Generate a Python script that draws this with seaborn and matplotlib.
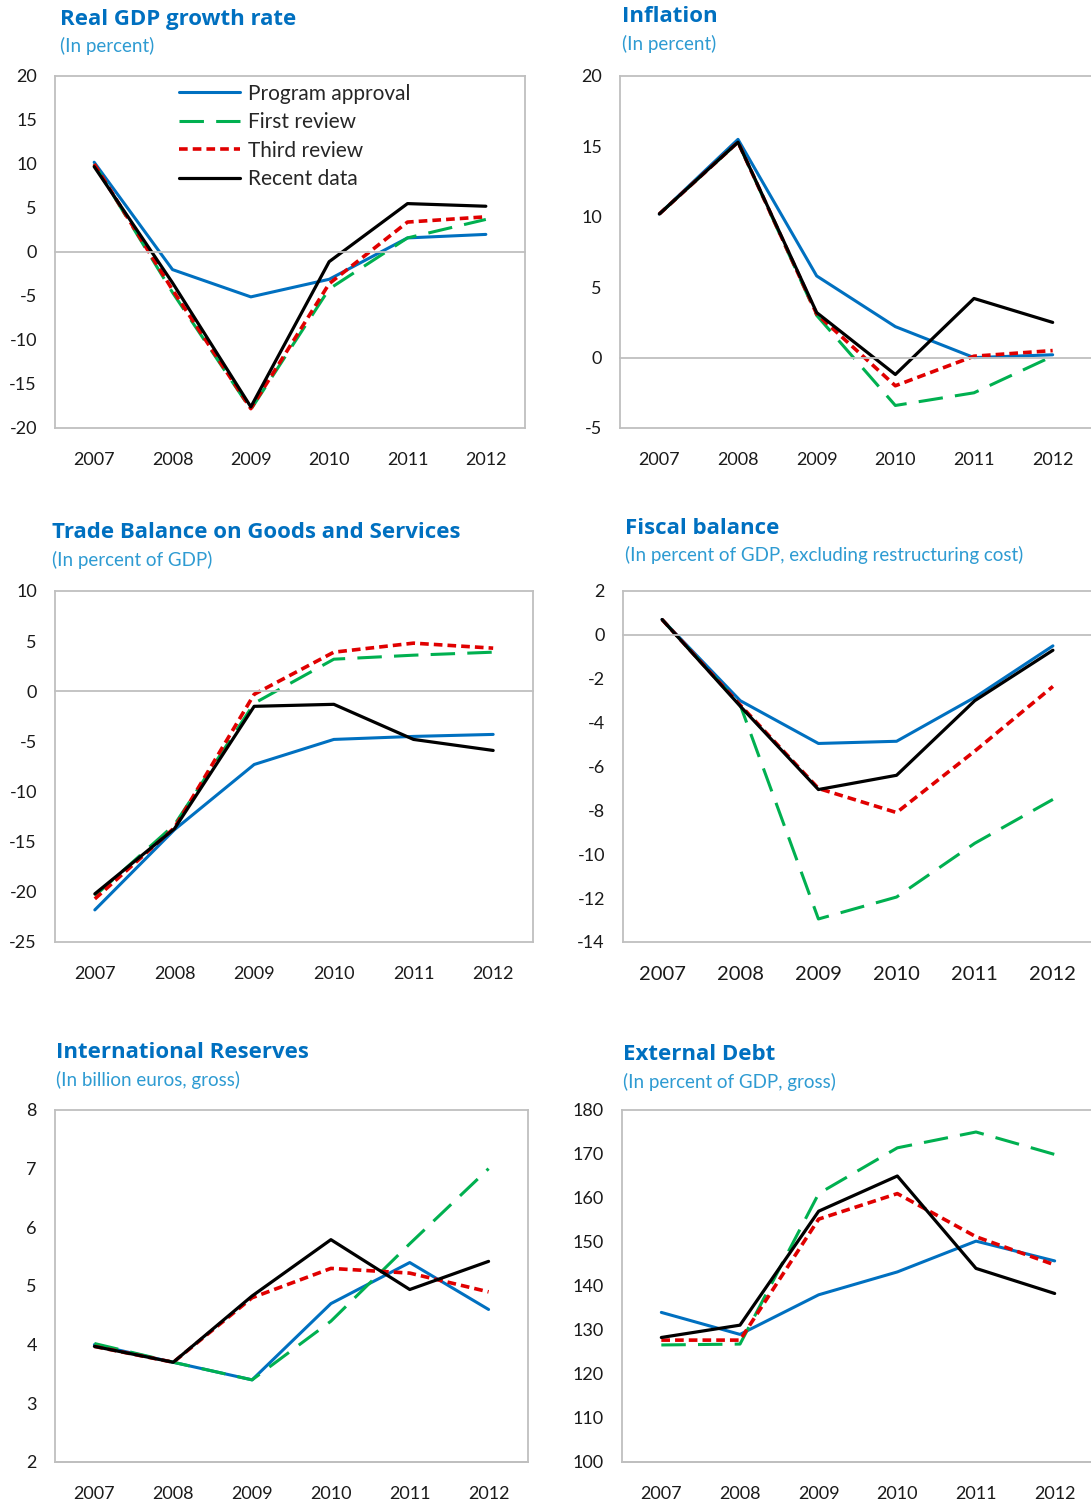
import numpy as np
import pandas as pd
import matplotlib
matplotlib.use("Agg")
import matplotlib.pyplot as plt
import seaborn as sns

years = [2007, 2008, 2009, 2010, 2011, 2012]
series_names = ["Program approval", "First review", "Third review", "Recent data"]

# Real GDP growth rate (percent)
gdp_program = [10.2, -2.0, -5.1, -3.1, 1.6, 2.0]
gdp_first = [10.0, -4.6, -17.9, -4.2, 1.6, 3.7]
gdp_third = [10.0, -4.3, -17.8, -3.6, 3.4, 4.0]
gdp_recent = [9.7, -3.5, -17.6, -1.1, 5.5, 5.2]

# Inflation (percent)
infl_program = [10.2, 15.5, 5.8, 2.2, 0.0, 0.2]
infl_first = [10.2, 15.3, 3.0, -3.4, -2.5, 0.1]
infl_third = [10.2, 15.3, 3.1, -2.0, 0.1, 0.5]
infl_recent = [10.2, 15.3, 3.2, -1.2, 4.2, 2.5]

# Trade balance on goods and services (percent of GDP)
trade_program = [-21.8, -13.8, -7.3, -4.8, -4.5, -4.3]
trade_first = [-20.4, -13.3, -1.2, 3.2, 3.6, 3.9]
trade_third = [-20.7, -13.6, -0.3, 3.9, 4.8, 4.3]
trade_recent = [-20.2, -13.7, -1.5, -1.3, -4.8, -5.9]

# Fiscal balance (percent of GDP)
fiscal_program = [0.7, -3.0, -4.95, -4.85, -2.85, -0.5]
fiscal_first = [0.7, -3.2, -12.95, -11.95, -9.5, -7.5]
fiscal_third = [0.7, -3.2, -7.0, -8.1, -5.3, -2.35]
fiscal_recent = [0.7, -3.25, -7.05, -6.4, -3.0, -0.7]

# International reserves (billion euros)
res_program = [4.0, 3.7, 3.4, 4.7, 5.4, 4.6]
res_first = [4.02, 3.7, 3.4, 4.4, 5.72, 7.0]
res_third = [3.97, 3.7, 4.8, 5.3, 5.22, 4.9]
res_recent = [3.97, 3.7, 4.83, 5.79, 4.94, 5.42]

# External debt (percent of GDP)
debt_program = [134.0, 129.0, 138.0, 143.2, 150.2, 145.7]
debt_first = [126.6, 126.8, 161.0, 171.4, 175.0, 169.9]
debt_third = [127.7, 127.7, 155.2, 161.0, 151.2, 144.8]
debt_recent = [128.3, 131.1, 157.0, 165.0, 144.0, 138.3]

colors = {"Program approval": "#0070C0", "First review": "#00B050",
          "Third review": "#E00000", "Recent data": "#000000"}
dashes = {"Program approval": "", "First review": (8, 4),
          "Third review": (2.4, 1.4), "Recent data": ""}
widths = {"Program approval": 2.2, "First review": 2.2,
          "Third review": 2.6, "Recent data": 2.3}

W, H = 1091, 1505
GRAY = "#BFBFBF"
TITLE_BLUE = "#0070C0"
SUB_BLUE = "#2E9BD2"

sns.set_style("white")
plt.rcParams["font.family"] = ["Lato", "DejaVu Sans"]
plt.rcParams["axes.unicode_minus"] = False

panels = [
    dict(title="Real GDP growth rate", sub="(In percent)",
         data=[gdp_program, gdp_first, gdp_third, gdp_recent],
         ylim=(-20, 20), yticks=range(-20, 21, 5),
         box=(55, 76, 525, 428), tpos=(60, 17), xfs=13),
    dict(title="Inflation", sub="(In percent)",
         data=[infl_program, infl_first, infl_third, infl_recent],
         ylim=(-5, 20), yticks=range(-5, 21, 5),
         box=(620, 76, 1092, 428), tpos=(622, 15), xfs=13),
    dict(title="Trade Balance on Goods and Services", sub="(In percent of GDP)",
         data=[trade_program, trade_first, trade_third, trade_recent],
         ylim=(-25, 10), yticks=range(-25, 11, 5),
         box=(55, 591, 533, 942), tpos=(52, 531), xfs=13),
    dict(title="Fiscal balance", sub="(In percent of GDP, excluding restructuring cost)",
         data=[fiscal_program, fiscal_first, fiscal_third, fiscal_recent],
         ylim=(-14, 2), yticks=range(-14, 3, 2),
         box=(623, 591, 1092, 942), tpos=(625, 526), xfs=14.5),
    dict(title="International Reserves", sub="(In billion euros, gross)",
         data=[res_program, res_first, res_third, res_recent],
         ylim=(2, 8), yticks=range(2, 9, 1),
         box=(55, 1110, 528, 1462), tpos=(56, 1051), xfs=13),
    dict(title="External Debt", sub="(In percent of GDP, gross)",
         data=[debt_program, debt_first, debt_third, debt_recent],
         ylim=(100, 180), yticks=range(100, 181, 10),
         box=(622, 1110, 1094, 1462), tpos=(623, 1053), xfs=13),
]

fig = plt.figure(figsize=(W / 100, H / 100), dpi=100)

for i, p in enumerate(panels):
    l, t, r, b = p["box"]
    ax = fig.add_axes([l / W, 1 - b / H, (r - l) / W, (b - t) / H])

    df = pd.DataFrame({
        "year": years * 4,
        "value": np.concatenate(p["data"]),
        "series": np.repeat(series_names, len(years)),
    })
    sns.lineplot(data=df, x="year", y="value", hue="series", style="series",
                 size="series", hue_order=series_names, style_order=series_names,
                 size_order=series_names, palette=colors, dashes=dashes,
                 sizes=widths, sort=False, legend=(i == 0), ax=ax)

    ax.set_xlim(years[0] - 0.5, years[-1] + 0.5)
    ax.set_ylim(*p["ylim"])
    ax.set_yticks(list(p["yticks"]))
    ax.set_xlabel("")
    ax.set_ylabel("")
    for s in ax.spines.values():
        s.set_color(GRAY)
        s.set_linewidth(1.3)

    # zero line carries the category divider ticks
    base = 0 if p["ylim"][0] < 0 else p["ylim"][0]
    ax.spines["bottom"].set_position(("data", base))
    ax.set_xticks([y - 0.5 for y in years] + [years[-1] + 0.5])
    ax.tick_params(axis="x", direction="out", length=6, width=1.3, color=GRAY,
                   labelbottom=False)
    ax.tick_params(axis="y", direction="out", length=6, width=1.3, color=GRAY,
                   pad=7, labelsize=13, labelcolor="#1a1a1a")

    sec = ax.secondary_xaxis("bottom")
    sec.set_xticks(years)
    sec.set_xticklabels([str(y) for y in years])
    sec.tick_params(length=0, pad=17, labelsize=p["xfs"], labelcolor="#1a1a1a")
    sec.spines["bottom"].set_color(GRAY)
    sec.spines["bottom"].set_linewidth(1.3)

    if i == 0:
        sns.move_legend(ax, "upper left", bbox_to_anchor=(0.238, 1.014),
                        frameon=False, title=None, fontsize=15,
                        handlelength=2.9, handletextpad=0.4,
                        labelspacing=0.41, borderaxespad=0.2)

    tx, ty = p["tpos"]
    fig.text(tx / W, 1 - (ty + 2) / H, p["title"], fontsize=16, fontweight="bold",
             color=TITLE_BLUE, family=["Open Sans", "DejaVu Sans"],
             ha="left", va="center")
    fig.text(tx / W, 1 - (ty + 29) / H, p["sub"], fontsize=13.5,
             color=SUB_BLUE, ha="left", va="center")

fig.savefig("out.png", dpi=100)
